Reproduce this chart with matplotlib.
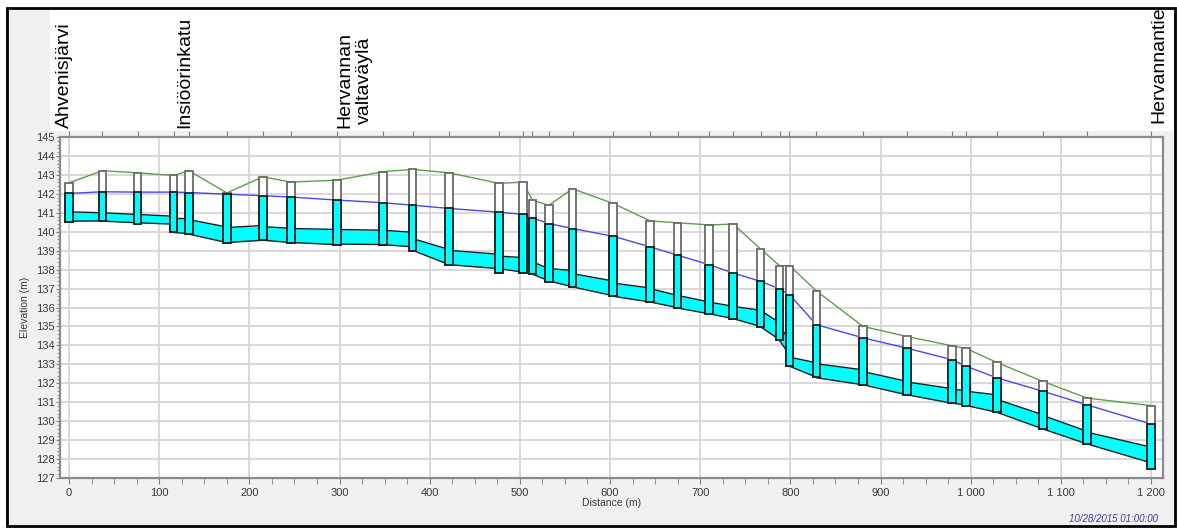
import matplotlib
matplotlib.use("Agg")
import matplotlib.pyplot as plt
import matplotlib.patches as mpatches
import matplotlib.transforms as mtransforms
from matplotlib.ticker import MultipleLocator, FuncFormatter

plt.rcParams["font.family"] = ["Liberation Sans", "DejaVu Sans"]

# ── Data ────────────────────────────────────────────────────────
node_dist = [0, 37, 76, 116, 133, 175, 215, 246, 297, 348.5, 381, 421.6,
             477, 503.3, 513.9, 532, 558.4, 603.5, 644.6, 675, 710, 736.7,
             767, 788, 799, 829, 880.6, 929.4, 979, 994.8, 1029, 1080, 1129, 1200]
node_rim = [142.58, 143.22, 143.11, 142.97, 143.22, 142.05, 142.90, 142.62,
            142.72, 143.17, 143.29, 143.11, 142.55, 142.62, 141.67, 141.39,
            142.27, 141.49, 140.57, 140.47, 140.36, 140.40, 139.09, 138.21,
            138.21, 136.87, 135.00, 134.47, 133.98, 133.84, 133.10, 132.10,
            131.22, 130.82]
node_head = [142.02, 142.11, 142.09, 142.09, 142.07, 141.98, 141.90, 141.83,
             141.67, 141.53, 141.40, 141.23, 141.03, 140.91, 140.73, 140.43,
             140.17, 139.76, 139.20, 138.76, 138.26, 137.82, 137.38, 136.99,
             136.68, 135.09, 134.40, 133.85, 133.25, 132.90, 132.29, 131.58,
             130.86, 129.85]
node_invert = [140.52, 140.57, 140.43, 139.96, 139.87, 139.43, 139.55, 139.43,
               139.32, 139.32, 138.98, 138.26, 137.82, 137.82, 137.75, 137.35,
               137.09, 136.59, 136.29, 135.97, 135.67, 135.41, 134.96, 134.26,
               132.90, 132.32, 131.92, 131.39, 130.94, 130.82, 130.47, 129.59,
               128.79, 127.50]

# conduits between consecutive nodes: crown / bottom at up- and downstream end
pipe_top_up = [141.05, 141.00, 140.91, 140.70, 140.64, 140.22, 140.27, 140.17,
               140.12, 140.08, 139.64, 139.02, 138.71, 138.55, 138.41, 138.06,
               137.79, 137.29, 136.99, 136.64, 136.29, 136.06, 135.85, 135.00,
               133.38, 133.03, 132.62, 132.07, 131.67, 131.58, 131.15, 130.30,
               129.42]
pipe_top_dn = [141.00, 140.91, 140.82, 140.70, 140.25, 140.33, 140.18, 140.12,
               140.08, 139.97, 139.06, 138.81, 138.64, 138.45, 138.06, 137.95,
               137.40, 137.03, 136.64, 136.29, 136.06, 135.85, 135.20, 134.30,
               133.08, 132.71, 132.10, 131.72, 131.63, 131.39, 130.34, 129.47,
               128.63]
pipe_bot_up = [140.56, 140.56, 140.47, 139.96, 139.87, 139.43, 139.55, 139.43,
               139.35, 139.32, 139.02, 138.26, 138.05, 137.85, 137.76, 137.41,
               137.09, 136.59, 136.29, 135.97, 135.67, 135.41, 134.98, 134.26,
               132.90, 132.29, 131.92, 131.39, 130.95, 130.83, 130.47, 129.59,
               128.80]
pipe_bot_dn = [140.57, 140.47, 140.40, 139.90, 139.43, 139.55, 139.43, 139.32,
               139.32, 139.20, 138.26, 138.05, 137.87, 137.78, 137.41, 137.09,
               136.62, 136.29, 135.99, 135.67, 135.41, 135.00, 134.30, 133.50,
               132.32, 131.92, 131.39, 130.95, 130.86, 130.47, 129.59, 128.80,
               127.80]

label_text = ["Ahvenisjärvi", "Insiöörinkatu", "Hervannan\nvaltaväylä", "Hervannantie"]
label_dist = [0, 133, 297, 1200]

# ── Style ───────────────────────────────────────────────────────
CYAN = "#00FFFF"
HGL = "#4848E8"
GROUND = "#5AA04A"
GRID = "#D6D6D6"
BG = "#F0F0F0"
W, H = 1177, 528
BOX_W = 8.5  # manhole width (m)

fig = plt.figure(figsize=(W / 100, H / 100), dpi=100)
fig.patch.set_facecolor("white")

# grey panel + white label strip + black frame
fig.patches.append(mpatches.Rectangle((7 / W, 1 - 526 / H), 1168 / W, 518 / H,
                                      transform=fig.transFigure, facecolor=BG,
                                      edgecolor="none", zorder=-3))
fig.patches.append(mpatches.Rectangle((50 / W, 1 - 131 / H), 1125 / W, 123 / H,
                                      transform=fig.transFigure, facecolor="white",
                                      edgecolor="none", zorder=-2))
fig.patches.append(mpatches.Rectangle((7 / W, 1 - 526 / H), 1168 / W, 518 / H,
                                      transform=fig.transFigure, facecolor="none",
                                      edgecolor="black", lw=2, zorder=10))

ax = fig.add_axes([60 / W, 1 - 478 / H, 1103 / W, 341 / H])
ax.set_facecolor("white")
ax.set_xlim(-10, 1213.3)
ax.set_ylim(127, 145)

ax.xaxis.set_major_locator(MultipleLocator(100))
ax.xaxis.set_minor_locator(MultipleLocator(25))
ax.yaxis.set_major_locator(MultipleLocator(1))
ax.yaxis.set_minor_locator(MultipleLocator(0.2))
ax.xaxis.set_major_formatter(FuncFormatter(lambda v, p: f"{v:,.0f}".replace(",", " ")))
ax.grid(True, which="major", color=GRID, lw=1.3, zorder=0)
ax.tick_params(axis="both", which="both", direction="out", colors="#808080",
               labelcolor="#3A3A3A", labelsize=8)
ax.tick_params(axis="x", which="both", length=4, pad=3)
ax.tick_params(axis="y", which="major", length=3, pad=1)
ax.tick_params(axis="y", which="minor", length=2)
for s in ax.spines.values():
    s.set_color("#8A8A8A")
    s.set_linewidth(1.6)

top = ax.secondary_xaxis("top")
top.set_xticks(node_dist, labels=[])
top.tick_params(length=4, colors="#808080")
top.spines["top"].set_visible(False)

ax.set_xlabel("Distance (m)", fontsize=7.5, color="#3A3A3A", labelpad=0)
ax.set_ylabel("Elevation (m)", fontsize=7.5, color="#3A3A3A", labelpad=4)

# conduits
for i in range(len(pipe_top_up)):
    xs = [node_dist[i], node_dist[i + 1]]
    bot = [pipe_bot_up[i], pipe_bot_dn[i]]
    tp = [pipe_top_up[i], pipe_top_dn[i]]
    ax.fill_between(xs, bot, tp, color=CYAN, lw=0, zorder=2)
    ax.plot(xs, bot, color="#1E1E1E", lw=1.0, zorder=3)
    ax.plot(xs, tp, color="#1E1E1E", lw=1.0, zorder=3)

# ground and hydraulic grade lines
ax.plot(node_dist, node_rim, color=GROUND, lw=1.0, zorder=4)
ax.plot(node_dist, node_head, color=HGL, lw=1.0, zorder=4)

# manholes
for x, rim, hd, inv in zip(node_dist, node_rim, node_head, node_invert):
    ax.add_patch(mpatches.Rectangle((x - BOX_W / 2, inv), BOX_W, rim - inv,
                                    facecolor="white", edgecolor="#6A6A6A",
                                    lw=1.3, zorder=5))
    ax.add_patch(mpatches.Rectangle((x - BOX_W / 2, inv), BOX_W, hd - inv,
                                    facecolor=CYAN, edgecolor="#1E1E1E",
                                    lw=1.3, zorder=6))

# node labels above the plot
lab_tr = mtransforms.blended_transform_factory(ax.transData, fig.transFigure)
label_shift = [-5, -5, 20, 9]
label_bottom = [128, 128, 128, 123]
for txt, d, sh, yb in zip(label_text, label_dist, label_shift, label_bottom):
    ax.text(d + sh, 1 - yb / H, txt, rotation=90, ha="center", va="bottom",
            fontsize=14, color="black", linespacing=1.2, transform=lab_tr)

fig.text(1158 / W, 1 - 524 / H, "10/28/2015 01:00:00", ha="right", va="bottom",
         fontsize=7, style="italic", color="#3838A8")

fig.savefig("out.png", dpi=100)
